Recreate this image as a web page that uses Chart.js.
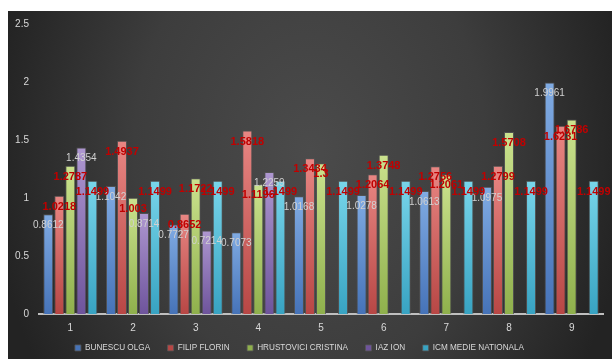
<!DOCTYPE html>
<html>
<head>
<meta charset="utf-8">
<script src="https://cdn.jsdelivr.net/npm/chart.js@4"></script>
<style>
  html, body { margin: 0; padding: 0; background: #ffffff; }
  #wrap { width: 612px; height: 359px; position: relative; }
</style>
</head>
<body>
<div id="wrap"><canvas id="icm-chart"></canvas></div>
<script>
// Categories and series
const categories = ['1', '2', '3', '4', '5', '6', '7', '8', '9'];
const bunescuOlga = [0.8612, 1.1042, 0.7727, 0.7073, 1.0168, 1.0278, 1.0613, 1.0975, 1.9961];
const filipFlorin = [1.0218, 1.4937, 0.8652, 1.5818, 1.3434, 1.2064, 1.2756, 1.2799, 1.6231];
const hrustoviciCristina = [1.2787, 1.003, 1.1722, 1.1196, 1.3, 1.3748, 1.2061, 1.5708, 1.6786];
const iazIon = [1.4354, 0.8714, 0.7214, 1.2259, null, null, null, null, null];
const icmMedie = [1.1499, 1.1499, 1.1499, 1.1499, 1.1499, 1.1499, 1.1499, 1.1499, 1.1499];
const yTicks = [0, 0.5, 1, 1.5, 2, 2.5];

const FONT = "'Liberation Sans', Arial, sans-serif";

// top / bottom colours of each bar gradient, plus a flat colour for the legend
function barFill(top, bottom, flat) {
    return function (ctx) {
        if (ctx.type !== 'data' || !ctx.chart.scales.y) return flat;
        const value = ctx.raw;
        if (value === null || value === undefined) return flat;
        const y = ctx.chart.scales.y;
        const y0 = y.getPixelForValue(0);
        const y1 = y.getPixelForValue(value);
        if (!isFinite(y0) || !isFinite(y1) || y0 === y1) return flat;
        const g = ctx.chart.ctx.createLinearGradient(0, y1, 0, y0);
        g.addColorStop(0, top);
        g.addColorStop(1, bottom);
        return g;
    };
}

function makeSet(label, data, top, bottom, flat, labelColor, labelBold) {
    return {
        label: label,
        data: data,
        backgroundColor: barFill(top, bottom, flat),
        borderColor: 'rgba(85, 85, 85, 0.85)',
        borderWidth: 1,
        borderSkipped: 'bottom',
        valueColor: labelColor,
        valueBold: labelBold
    };
}

// radial-ish dark backdrop behind the plot
const backdrop = {
    id: 'backdrop',
    beforeDraw(chart) {
        const c = chart.ctx;
        c.save();
        c.translate(310, 150);
        c.scale(1, 1.3);
        const g = c.createRadialGradient(0, 0, 0, 0, 0, 320);
        g.addColorStop(0, '#4b4b4b');
        g.addColorStop(0.55, '#3d3d3d');
        g.addColorStop(1, '#232323');
        c.fillStyle = g;
        c.fillRect(-302, -139 / 1.3, 604, 348 / 1.3);
        c.restore();
    }
};

// pull the legend up closer to the axis labels (its padding also sets the item spacing)
const legendNudge = {
    id: 'legendNudge',
    afterLayout(chart) {
        const lg = chart.legend;
        if (!lg) return;
        lg.top -= 8;
        lg.bottom -= 8;
        lg.left -= 6;
        lg.right -= 6;
    }
};

// value labels just below the top of each bar
const valueLabels = {
    id: 'valueLabels',
    afterDatasetsDraw(chart) {
        const c = chart.ctx;
        c.save();
        c.textAlign = 'center';
        c.textBaseline = 'middle';
        chart.data.datasets.forEach(function (ds, i) {
            const meta = chart.getDatasetMeta(i);
            if (meta.hidden) return;
            c.fillStyle = ds.valueColor;
            c.font = (ds.valueBold ? 'bold 11px ' : '10px ') + FONT;
            meta.data.forEach(function (bar, j) {
                const v = ds.data[j];
                if (v === null || v === undefined) return;
                c.fillText(String(v), bar.x, bar.y + 11);
            });
        });
        c.restore();
    }
};

const ctx = document.getElementById('icm-chart').getContext('2d');
new Chart(ctx, {
    type: 'bar',
    data: {
        labels: categories,
        datasets: [
            makeSet('BUNESCU OLGA', bunescuOlga, '#80abe3', '#4673b8', '#4f81bd', '#d0d0d0', false),
            makeSet('FILIP FLORIN', filipFlorin, '#e88683', '#b84745', '#c0504d', '#c00000', true),
            makeSet('HRUSTOVICI CRISTINA', hrustoviciCristina, '#cbe28e', '#8fb04c', '#9bbb59', '#c00000', true),
            makeSet('IAZ ION', iazIon, '#ae97d0', '#6e549c', '#8064a2', '#d0d0d0', false),
            makeSet('ICM MEDIE NATIONALA', icmMedie, '#78d5ea', '#38a3c2', '#4bacc6', '#c00000', true)
        ]
    },
    options: {
        responsive: true,
        maintainAspectRatio: false,
        animation: false,
        categoryPercentage: 0.88,
        barPercentage: 0.91,
        layout: {
            padding: { left: 8, right: 9, top: 24, bottom: -11 }
        },
        plugins: {
            tooltip: { enabled: false },
            legend: {
                position: 'bottom',
                labels: {
                    color: '#d9d9d9',
                    boxWidth: 6,
                    boxHeight: 6,
                    padding: 17.5,
                    font: { family: FONT, size: 8.2 }
                }
            }
        },
        scales: {
            x: {
                grid: { display: false, drawTicks: false },
                border: { display: true, color: '#bfbfbf', width: 2 },
                afterFit: function (scale) { scale.height = 20; },
                ticks: {
                    color: '#d9d9d9',
                    padding: 8,
                    font: { family: FONT, size: 10 }
                }
            },
            y: {
                min: yTicks[0],
                max: yTicks[yTicks.length - 1],
                grid: { display: false, drawTicks: false },
                border: { display: false },
                afterFit: function (scale) { scale.width = 31; },
                afterBuildTicks: function (scale) {
                    scale.ticks = yTicks.map(function (v) { return { value: v }; });
                },
                ticks: {
                    color: '#d9d9d9',
                    padding: 10,
                    font: { family: FONT, size: 10 },
                    callback: function (value) { return String(value); }
                }
            }
        }
    },
    plugins: [backdrop, legendNudge, valueLabels]
});
</script>
</body>
</html>
